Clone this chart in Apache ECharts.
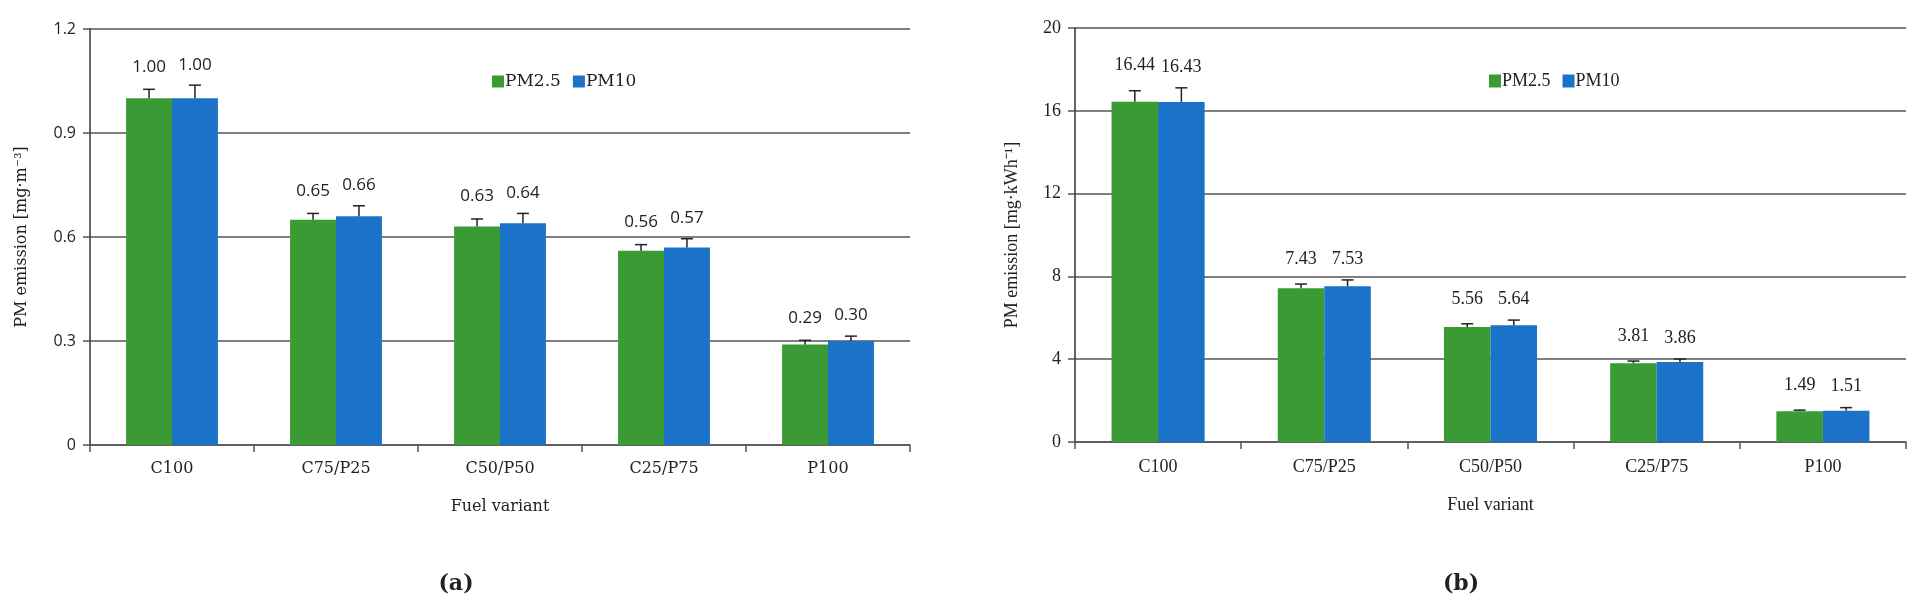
<!DOCTYPE html>
<html><head><meta charset="utf-8">
<script src="https://cdn.jsdelivr.net/npm/echarts@6/dist/echarts.min.js"></script>
<style>html,body{margin:0;padding:0;background:#fff}#c{width:1920px;height:609px}</style>
</head><body><div id="c"></div>
<script>
const categories = ['C100','C75/P25','C50/P50','C25/P75','P100'];
const seriesNames = ['PM2.5','PM10'];
// Panel (a): PM emission [mg·m-3]
const aPM25 = [1.00, 0.65, 0.63, 0.56, 0.29];
const aPM10 = [1.00, 0.66, 0.64, 0.57, 0.30];
const aErr25 = [0.026, 0.018, 0.022, 0.018, 0.012];
const aErr10 = [0.038, 0.030, 0.028, 0.025, 0.014];
// Panel (b): PM emission [mg·kWh-1]
const bPM25 = [16.44, 7.43, 5.56, 3.81, 1.49];
const bPM10 = [16.43, 7.53, 5.64, 3.86, 1.51];
const bErr25 = [0.53, 0.20, 0.15, 0.10, 0.05];
const bErr10 = [0.68, 0.30, 0.25, 0.15, 0.15];
const aTicks = {min:0, max:1.2, interval:0.3};
const bTicks = {min:0, max:20, interval:4};

const GREEN = '#3a9a33', BLUE = '#1a72c9', GRID = '#555', TXT = '#222';
const SERIF_A = '"DejaVu Serif",serif';
const SERIF_B = '"Liberation Serif",serif';
const SANS = '"Open Sans","Noto Sans",sans-serif';

function errRender(sign, labelFont, labelOff){
  return function(params, api){
    const i = api.value(0), v = api.value(1), e = api.value(2);
    const band = api.size([1,0])[0];
    const base = api.coord([i, v]);
    const x = base[0] + sign*band*0.14;
    const y0 = base[1], y1 = api.coord([i, v+e])[1];
    const cap = 6;
    return {type:'group', children:[
      {type:'line', shape:{x1:x,y1:y0,x2:x,y2:y1}, style:{stroke:'#222',lineWidth:1.5}},
      {type:'line', shape:{x1:x-cap,y1:y1,x2:x+cap,y2:y1}, style:{stroke:'#222',lineWidth:1.5}},
      {type:'text', x:x, y:y1-labelOff, style:{text:v.toFixed(2), textAlign:'center', textVerticalAlign:'bottom', font:labelFont, fill:TXT}}
    ]};
  };
}
function zipErr(vals, errs){ return vals.map((v,i)=>[i, v, errs[i]]); }

const chart = echarts.init(document.getElementById('c'), null, {renderer:'canvas'});
function mkX(gi, font, fs){
  return {type:'category', gridIndex:gi, data:categories,
    axisLine:{lineStyle:{color:GRID,width:1.5}}, axisTick:{show:true,length:7,lineStyle:{color:GRID,width:1.5}},
    axisLabel:{color:TXT, fontFamily:font, fontSize:fs, margin:16},
    name:'Fuel variant', nameLocation:'middle', nameGap:54, nameTextStyle:{color:TXT,fontFamily:font,fontSize:fs}};
}
function mkY(gi, t, name, font, fs, tfont, tfs, gap){
  return {type:'value', gridIndex:gi, min:t.min, max:t.max, interval:t.interval,
    axisLine:{show:true, lineStyle:{color:'#333',width:1.5}}, axisTick:{show:true,length:7,lineStyle:{color:GRID,width:1.5}},
    splitLine:{show:true, lineStyle:{color:GRID,width:1.5}},
    axisLabel:{color:TXT, fontFamily:font, fontSize:fs, margin:14, formatter:v=>String(+v.toFixed(2))},
    name:name, nameLocation:'middle', nameGap:gap, nameRotate:90, nameTextStyle:{color:TXT,fontFamily:tfont,fontSize:tfs}};
}
const barCommon = {type:'bar', barWidth:'28%', barGap:'0%', animation:false};
chart.setOption({
  animation:false,
  grid:[{left:90, top:29, width:820, height:416},{left:1075, top:28, width:831, height:414}],
  legend:[
    {left:487, top:68, itemWidth:12, itemHeight:12, itemGap:12, icon:'rect', textStyle:{fontFamily:SERIF_A,fontSize:17,color:TXT,padding:[0,0,0,-4]}, data:seriesNames},
    {left:1484, top:67, itemWidth:12, itemHeight:13, itemGap:12, icon:'rect', textStyle:{fontFamily:SERIF_B,fontSize:18,color:TXT,padding:[0,0,0,-4]}, data:seriesNames}
  ],
  xAxis:[mkX(0, SERIF_A, 16), mkX(1, SERIF_B, 18)],
  yAxis:[mkY(0, aTicks, 'PM emission [mg·m⁻³]', SANS, 16, SERIF_A, 16, 60), mkY(1, bTicks, 'PM emission [mg·kWh⁻¹]', SERIF_B, 18, SERIF_B, 18, 54)],
  title:[
    {text:'(a)', left:451, top:568, textAlign:'center', textStyle:{fontFamily:SERIF_A,fontWeight:'bold',fontSize:22,color:TXT}},
    {text:'(b)', left:1456, top:568, textAlign:'center', textStyle:{fontFamily:SERIF_A,fontWeight:'bold',fontSize:22,color:TXT}}
  ],
  series:[
    Object.assign({}, barCommon, {name:'PM2.5', xAxisIndex:0, yAxisIndex:0, data:aPM25, itemStyle:{color:GREEN}}),
    Object.assign({}, barCommon, {name:'PM10', xAxisIndex:0, yAxisIndex:0, data:aPM10, itemStyle:{color:BLUE}}),
    {type:'custom', xAxisIndex:0, yAxisIndex:0, data:zipErr(aPM25,aErr25), renderItem:errRender(-1,'17px '+SANS,14), z:5},
    {type:'custom', xAxisIndex:0, yAxisIndex:0, data:zipErr(aPM10,aErr10), renderItem:errRender(1,'17px '+SANS,12), z:5},
    Object.assign({}, barCommon, {name:'PM2.5', xAxisIndex:1, yAxisIndex:1, data:bPM25, itemStyle:{color:GREEN}}),
    Object.assign({}, barCommon, {name:'PM10', xAxisIndex:1, yAxisIndex:1, data:bPM10, itemStyle:{color:BLUE}}),
    {type:'custom', xAxisIndex:1, yAxisIndex:1, data:zipErr(bPM25,bErr25), renderItem:errRender(-1,'18px '+SERIF_B,16), z:5},
    {type:'custom', xAxisIndex:1, yAxisIndex:1, data:zipErr(bPM10,bErr10), renderItem:errRender(1,'18px '+SERIF_B,12), z:5}
  ]
});
</script></body></html>
